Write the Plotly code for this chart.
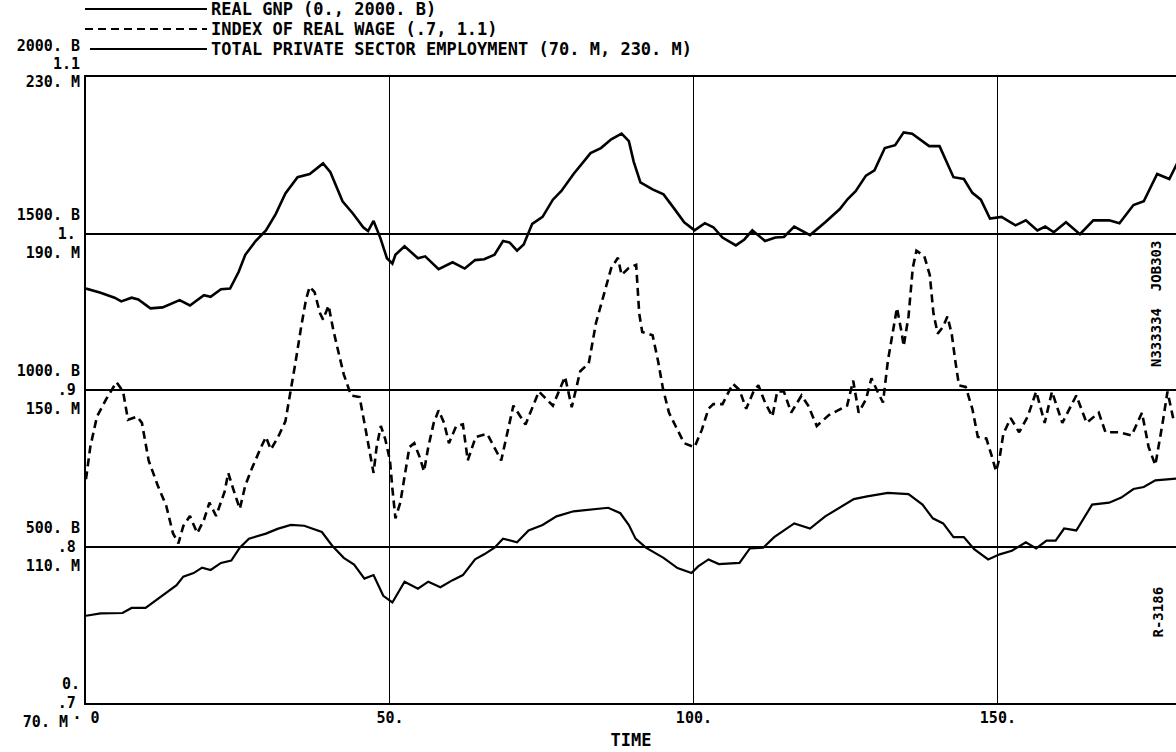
import plotly.graph_objects as go

# ---------------- data ----------------
gnp_time = [0, 2.4, 4.7, 5.8, 7.5, 8.6, 10.6, 12.6, 15.4, 17.1, 19.4, 20.5, 22.2, 23.7, 25.1, 26.2,
            27.9, 29.6, 31.2, 32.8, 34.8, 36.8, 39.0, 40.2, 42.2, 43.9, 45.6, 46.4, 47.3, 48.4,
            49.5, 50.4, 50.9, 52.4, 54.6, 55.8, 58.0, 60.3, 62.3, 64.0, 65.5, 67.2, 68.6, 69.7,
            70.9, 72.0, 73.4, 75.1, 76.8, 78.2, 80.2, 83.0, 84.7, 86.4, 88.1, 89.3, 90.1, 91.2,
            93.2, 95.0, 96.7, 98.4, 100.1, 101.8, 103.2, 104.7, 106.9, 108.3, 109.6, 111.7, 113.4,
            114.8, 116.5, 119.1, 121.6, 124.0, 125.3, 126.6, 128.3, 129.7, 131.4, 133.1, 134.5,
            135.9, 138.7, 140.4, 142.7, 144.4, 145.8, 147.2, 148.7, 150.6, 152.9, 154.6, 156.5,
            157.8, 159.2, 161.2, 163.5, 165.7, 168.3, 170.0, 172.3, 174.0, 176.2, 178.2, 179.9]
gnp_value = [1324, 1311, 1295, 1283, 1295, 1289, 1261, 1264, 1287, 1270, 1303, 1298, 1322, 1324, 1377, 1432,
             1476, 1510, 1562, 1628, 1680, 1690, 1724, 1696, 1603, 1564, 1520, 1508, 1540, 1487,
             1421, 1404, 1432, 1459, 1421, 1427, 1386, 1408, 1388, 1415, 1418, 1432, 1476, 1471,
             1445, 1465, 1531, 1553, 1608, 1636, 1690, 1757, 1773, 1801, 1819, 1795, 1729, 1663,
             1641, 1625, 1581, 1536, 1510, 1533, 1520, 1487, 1462, 1481, 1510, 1476, 1487,
             1489, 1522, 1495, 1536, 1578, 1610, 1635, 1685, 1702, 1773, 1782, 1823,
             1819, 1779, 1779, 1680, 1674, 1630, 1608, 1548, 1553, 1526, 1542, 1510,
             1522, 1504, 1536, 1498, 1542, 1542, 1533, 1591, 1603, 1690, 1674, 1740]

wage_time = [0.0, 0.7, 1.8, 3.3, 5.0, 6.1, 6.9, 8.4, 9.2, 10.3, 11.8, 13.2, 14.3, 15.2, 16.0, 17.1,
             18.3, 19.4, 20.3, 21.4, 22.8, 23.4, 24.2, 25.3, 26.2, 27.3, 28.8, 29.6, 30.4, 31.6,
             32.8, 33.7, 34.5, 35.4, 36.2, 36.8, 37.6, 38.5, 39.0, 39.9, 40.7, 41.6, 42.4, 43.6,
             45.0, 45.8, 46.7, 47.3, 47.8, 48.5, 49.2, 50.0, 50.4, 50.9, 51.7, 52.4, 53.2, 54.0,
             54.9, 55.6, 56.3, 57.2, 58.0, 58.9, 59.7, 60.9, 62.0, 62.8, 64.1, 66.0, 68.3, 70.3,
             72.3, 74.5, 76.8, 78.8, 79.9, 81.3, 82.7, 83.9, 85.3, 86.4, 87.5, 88.1, 89.3, 90.5,
             91.0, 91.5, 93.2, 94.1, 94.9, 95.9, 97.3, 98.4, 100.1, 101.3, 102.4, 103.2, 104.7,
             106.4, 107.5, 108.6, 109.8, 110.6, 111.7, 112.9, 113.7, 114.8, 116.0, 117.7, 118.8,
             120.2, 122.2, 124.5, 125.2, 126.2, 127.1, 128.3, 129.2, 130.2, 131.1, 131.9, 132.8,
             133.4, 134.2, 134.5, 135.3, 136.0, 136.6, 137.9, 138.8, 139.4, 140.1, 141.0, 141.7,
             142.4, 143.0, 143.6, 144.7, 145.8, 146.7, 148.1, 148.9, 149.7, 150.3, 150.9, 152.1,
             153.5, 154.9, 156.3, 157.7, 158.9, 160.6, 162.9, 164.6, 166.6, 167.7, 170.0, 172.0,
             173.7, 174.8, 175.9, 177.1, 177.9, 179.0]
wage_value = [0.843, 0.8635, 0.883, 0.894, 0.905, 0.899, 0.881, 0.883, 0.879, 0.855, 0.839, 0.826, 0.8085, 0.802, 0.813, 0.8195,
              0.8085, 0.817, 0.828, 0.8195, 0.835, 0.847, 0.837, 0.824, 0.839, 0.850, 0.8635, 0.870, 0.862, 0.870,
              0.880, 0.899, 0.9185, 0.9405, 0.958, 0.966, 0.9625, 0.949, 0.945, 0.954, 0.938, 0.923, 0.910, 0.8965,
              0.8955, 0.879, 0.861, 0.847, 0.8635, 0.877, 0.869, 0.855, 0.837, 0.818, 0.828, 0.846, 0.8635, 0.866,
              0.857, 0.848, 0.8635, 0.879, 0.887, 0.879, 0.866, 0.877, 0.878, 0.855, 0.870, 0.872, 0.855, 0.890,
              0.878, 0.899, 0.890, 0.9085, 0.889, 0.912, 0.917, 0.943, 0.9625, 0.978, 0.9845, 0.9735, 0.978, 0.980,
              0.949, 0.937, 0.935, 0.9185, 0.901, 0.8855, 0.8745, 0.866, 0.8635, 0.8745, 0.888, 0.891, 0.891,
              0.904, 0.900, 0.888, 0.899, 0.903, 0.892, 0.883, 0.899, 0.899, 0.8855, 0.8965, 0.890,
              0.877, 0.884, 0.889, 0.890, 0.906, 0.8855, 0.894, 0.9075, 0.899, 0.892, 0.9185, 0.9405,
              0.9525, 0.936, 0.928, 0.947, 0.978, 0.989, 0.9855, 0.9735, 0.949, 0.936, 0.9405, 0.947,
              0.936, 0.9185, 0.903, 0.902, 0.888, 0.870, 0.869, 0.859, 0.848, 0.857, 0.872, 0.882,
              0.873, 0.883, 0.899, 0.879, 0.899, 0.879, 0.8965, 0.879, 0.8855, 0.873, 0.873, 0.871,
              0.8855, 0.8635, 0.852, 0.879, 0.899, 0.879]

emp_time = [0, 2.4, 6.0, 7.5, 9.8, 12.6, 14.9, 16.0, 17.7, 19.1, 20.5, 22.2, 23.9, 25.3, 26.8, 29.6,
            31.5, 33.7, 35.9, 38.8, 40.5, 42.4, 44.1, 45.8, 47.3, 48.9, 50.4, 52.4, 54.6, 56.3,
            58.3, 60.3, 62.0, 64.0, 65.5, 67.2, 68.6, 70.9, 72.8, 75.1, 77.4, 80.2, 83.0, 85.9,
            87.9, 89.3, 90.4, 92.1, 95.0, 97.3, 99.6, 100.7, 102.4, 104.1, 107.5, 109.2, 111.4,
            113.2, 116.5, 119.1, 121.6, 124.0, 126.3, 128.5, 131.9, 135.3, 137.6, 139.3, 141.0,
            142.7, 144.4, 146.1, 148.4, 150.3, 152.3, 154.6, 156.3, 158.0, 159.5, 160.9, 162.9,
            165.5, 168.3, 170.3, 172.3, 174.0, 175.9, 179.9]
emp_value = [92.3, 92.9, 93.0, 94.3, 94.3, 97.4, 100.1, 102.3, 103.2, 104.6, 104.0, 105.8, 106.4, 109.7, 112.0, 113.3,
             114.5, 115.5, 115.3, 113.7, 110.2, 107.1, 105.4, 101.8, 102.7, 97.4, 95.7, 101.0, 99.2, 101.0,
             99.6, 101.4, 102.7, 106.7, 108.0, 109.7, 112.0, 111.1, 114.1, 115.5, 117.7, 119.0, 119.4, 119.9,
             118.5, 115.5, 112.0, 109.7, 107.1, 104.5, 103.2, 104.9, 106.7, 105.5, 105.8, 109.5, 109.7,
             112.4, 115.9, 114.6, 117.7, 119.9, 122.1, 122.8, 123.7, 123.4, 120.7, 117.2, 115.9,
             112.4, 112.4, 109.3, 106.7, 108.0, 108.9, 111.1, 109.5, 111.5, 111.5, 114.6, 114.1,
             120.7, 121.2, 122.5, 124.7, 125.2, 126.9, 127.4]

x_ticks = [0, 50, 100, 150]
x_ticktext = ["\u00b7 0", "50.", "100.", "150."]
wage_ticks = [0.7, 0.8, 0.9, 1.0]
wage_ticktext = [".7", ".8", ".9", "1."]
gnp_ticks = [0, 500, 1000, 1500]
gnp_ticktext = ["0.", "500. B", "1000. B", "1500. B"]
emp_ticks = [110, 150, 190]
emp_ticktext = ["110. M", "150. M", "190. M"]
top_ticks = {"wage": (1.1, "1.1"), "gnp": (2000, "2000. B"), "emp": (230, "230. M")}
emp_bottom_tick = (70, "70. M")

legend_labels = ["REAL GNP (0., 2000. B)",
                 "INDEX OF REAL WAGE (.7, 1.1)",
                 "TOTAL PRIVATE SECTOR EMPLOYMENT (70. M, 230. M)"]

# ---------------- styling ----------------
FONT = "DejaVu Sans Mono"
W, H = 1176, 752
ML, MR, MT, MB = 86, 0, 77, 49
PW, PH = W - ML - MR, H - MT - MB
tick_font = dict(family=FONT, size=15, color="black", weight="bold")
lab_font = dict(family=FONT, size=17, color="black", weight="bold")


def px_x(px):
    return (px - ML) / PW


def px_y(py):
    return (H - MB - py) / PH


fig = go.Figure()
fig.add_trace(go.Scatter(x=gnp_time, y=gnp_value, yaxis="y2", mode="lines",
                         line=dict(color="black", width=2.6), showlegend=False))
fig.add_trace(go.Scatter(x=wage_time, y=wage_value, yaxis="y", mode="lines",
                         line=dict(color="black", width=2.6, dash="8px,5px"), showlegend=False))
fig.add_trace(go.Scatter(x=emp_time, y=emp_value, yaxis="y3", mode="lines",
                         line=dict(color="black", width=2.2), showlegend=False))
# empty traces so that the label-only axes (top row, bottom employment label) are drawn
for ax in ["y4", "y5", "y6", "y7"]:
    fig.add_trace(go.Scatter(x=[], y=[], yaxis=ax, mode="lines", showlegend=False,
                             hoverinfo="skip"))

common_hidden = dict(overlaying="y", anchor="x", side="left", showgrid=False, showline=False,
                     zeroline=False, ticks="", tickfont=tick_font, ticklabelstandoff=5)

fig.update_layout(
    width=W, height=H,
    margin=dict(l=ML, r=MR, t=MT, b=MB, pad=0),
    paper_bgcolor="white", plot_bgcolor="white",
    showlegend=False,
    xaxis=dict(range=[0, 179.3], tickvals=x_ticks, ticktext=x_ticktext, tickfont=tick_font,
               showgrid=True, gridcolor="black", gridwidth=1.4, showline=True, linecolor="black",
               linewidth=2.2, mirror=True, zeroline=False, ticks="",
               title=dict(text="TIME", font=lab_font, standoff=8)),
    yaxis=dict(range=[0.7, 1.1], tickvals=wage_ticks, ticktext=wage_ticktext, tickfont=tick_font,
               showgrid=True, gridcolor="black", gridwidth=1.6, showline=True, linecolor="black",
               linewidth=2.2, zeroline=False, ticks="", ticklabelstandoff=5),
    yaxis2=dict(range=[0, 2000], tickvals=gnp_ticks, ticktext=gnp_ticktext, ticklabelshift=-19,
                **common_hidden),
    yaxis3=dict(range=[70, 230], tickvals=emp_ticks, ticktext=emp_ticktext, ticklabelshift=19,
                **common_hidden),
    yaxis4=dict(range=[0.7, 1.1], tickvals=[top_ticks["wage"][0]], ticktext=[top_ticks["wage"][1]],
                ticklabelshift=-13, **common_hidden),
    yaxis5=dict(range=[0, 2000], tickvals=[top_ticks["gnp"][0]], ticktext=[top_ticks["gnp"][1]],
                ticklabelshift=-31, **common_hidden),
    yaxis6=dict(range=[70, 230], tickvals=[top_ticks["emp"][0]], ticktext=[top_ticks["emp"][1]],
                ticklabelshift=5, **common_hidden),
    yaxis7=dict(range=[70, 230], tickvals=[emp_bottom_tick[0]], ticktext=[emp_bottom_tick[1]],
                ticklabelshift=19, **{**common_hidden, "ticklabelstandoff": 17}),
)

# legend keys and texts (drawn in the header like the original plotter output)
legend_rows = [(9, 85, "solid"), (29, 85, "8px,5px"), (49, 90, "solid")]
for (py, x0, dash), text in zip(legend_rows, legend_labels):
    fig.add_shape(type="line", xref="paper", yref="paper", x0=px_x(x0), x1=px_x(207),
                  y0=px_y(py), y1=px_y(py), line=dict(color="black", width=2.2, dash=dash))
    fig.add_annotation(x=px_x(209), y=px_y(py), xref="paper", yref="paper", text=text,
                       showarrow=False, xanchor="left", yanchor="middle", font=lab_font)

side_font = dict(family=FONT, size=14, color="black", weight="bold")
fig.add_annotation(x=px_x(1166), y=px_y(304), xref="paper", yref="paper", text="N333334  JOB303",
                   textangle=-90, showarrow=False, font=side_font)
fig.add_annotation(x=px_x(1167), y=px_y(640), xref="paper", yref="paper", text="R-3186",
                   textangle=-90, showarrow=False, font=side_font)

fig.write_html("out.html", config=dict(displayModeBar=False),
               post_script="document.body.style.margin='0';document.body.style.overflow='hidden';")
